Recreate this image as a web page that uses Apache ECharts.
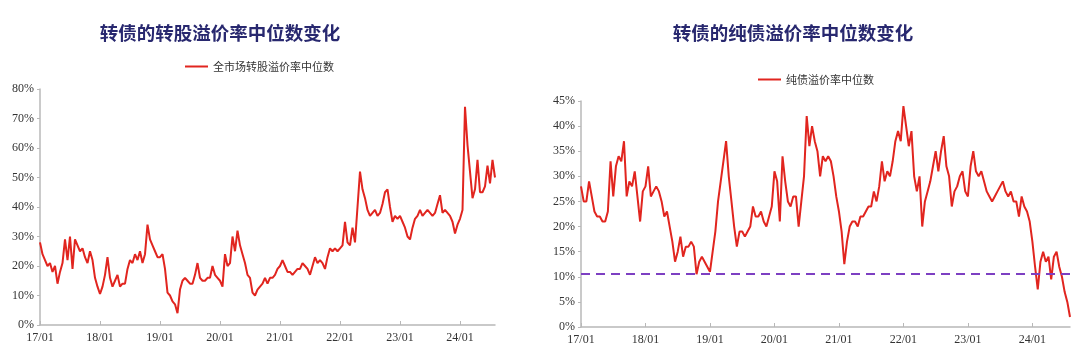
<!DOCTYPE html>
<html>
<head>
<meta charset="utf-8">
<script src="https://cdn.jsdelivr.net/npm/echarts@6/dist/echarts.min.js"></script>
<style>
  html, body { margin: 0; padding: 0; background: #fff; }
  #chart { width: 1080px; height: 353px; }
</style>
</head>
<body>
<div id="chart"></div>
<script>
// half-month points, 2017-01 .. 2024-08 (183 points)
var yearTicks = ['17/01', '18/01', '19/01', '20/01', '21/01', '22/01', '23/01', '24/01'];

// 全市场转股溢价率中位数 (%)
var convPremium = [
  // 2017
  28, 24, 22, 20, 21, 18, 20, 14, 18, 21, 29, 22, 30, 19, 29, 27, 25, 26, 23, 21, 25, 22, 16, 13,
  // 2018
  10.5, 13, 17, 23, 16, 13, 15, 17, 13, 14, 14, 19, 22, 21, 24, 22, 25, 21, 24, 34, 29, 27, 25, 23,
  // 2019
  23, 24, 19, 11, 10, 8, 7, 4, 12, 15, 16, 15, 14, 14, 17, 21, 16, 15, 15, 16, 16, 20, 17, 16,
  // 2020
  15, 13, 24, 20, 21, 30, 25, 32, 27, 24, 21, 17, 16, 11, 10, 12, 13, 14, 16, 14, 16, 16, 17, 19,
  // 2021
  20, 22, 20, 18, 18, 17, 18, 19, 19, 21, 20, 19, 17, 20, 23, 21, 22, 21, 19, 23, 26, 25, 26, 25,
  // 2022
  26, 27, 35, 28, 27, 33, 28, 40, 52, 46, 43, 39, 37, 38, 39, 37, 38, 41, 45, 46, 40, 35, 37, 36,
  // 2023
  37, 35, 33, 30, 29, 33, 36, 37, 39, 37, 38, 39, 38, 37, 38, 41, 44, 38, 39, 38, 37, 35, 31, 34,
  // 2024
  36, 39, 74, 61, 52, 43, 46, 56, 45, 45, 47, 54, 48, 56, 50
];

// 纯债溢价率中位数 (%)
var bondPremium = [
  // 2017
  28, 25, 25, 29, 26, 23, 22, 22, 21, 21, 23, 33, 26, 32, 34, 33, 37, 26, 29, 28, 31, 26, 21, 27,
  // 2018
  28, 32, 26, 27, 28, 27, 25, 22, 23, 20, 17, 13, 15, 18, 14, 16, 16, 17, 16, 10.5, 13, 14, 13, 12,
  // 2019
  11, 15, 19, 25, 29, 33, 37, 30, 25, 20, 16, 19, 19, 18, 19, 20, 24, 22, 22, 23, 21, 20, 22, 24,
  // 2020
  31, 29, 21, 34, 29, 25, 24, 26, 26, 20, 25, 30, 42, 36, 40, 37, 35, 30, 34, 33, 34, 33, 30, 26,
  // 2021
  23, 19, 12.5, 17, 20, 21, 21, 20, 22, 22, 23, 24, 24, 27, 25, 28, 33, 29, 31, 30, 33, 37, 39, 37,
  // 2022
  44, 40, 36, 39, 30, 27, 30, 20, 25, 27, 29, 32, 35, 31, 35, 38, 32, 30, 24, 27, 28, 30, 31, 27,
  // 2023
  26, 32, 35, 31, 30, 31, 29, 27, 26, 25, 26, 27, 28, 29, 27, 26, 27, 25, 25, 22, 26, 24, 23, 21,
  // 2024
  17, 12, 7.5, 13, 15, 13, 14, 9.5, 14, 15, 12, 10, 7, 5, 2
];

var bondLine = 10.7;

// category axis: first and 16th of each month
var dates = [];
for (var y = 2017; y <= 2024; y++) {
  for (var m = 1; m <= 12; m++) {
    var mm = (m < 10 ? '0' : '') + m;
    dates.push(y + '-' + mm + '-01');
    dates.push(y + '-' + mm + '-16');
  }
}
dates = dates.slice(0, convPremium.length);

function isYearStart(idx, val) {
  return yearTicks.indexOf(val.slice(2, 4) + '/' + val.slice(5, 7)) >= 0 && val.slice(8) === '01';
}

var tickFont = { fontFamily: 'Liberation Serif', fontSize: 12, color: '#333' };
var red = '#e1251f';

function xAxis(grid) {
  return {
    type: 'category', gridIndex: grid, data: dates, boundaryGap: false,
    axisLine: { lineStyle: { color: '#b8b8b8', width: 1.5 } },
    axisTick: { interval: isYearStart, inside: true, length: 4, lineStyle: { color: '#b8b8b8' } },
    axisLabel: Object.assign({ interval: isYearStart, margin: 7, formatter: function (v) {
      return v.slice(2, 4) + '/' + v.slice(5, 7);
    } }, tickFont),
    splitLine: { show: false }
  };
}
function yAxis(grid, max, step) {
  return {
    type: 'value', gridIndex: grid, min: 0, max: max, interval: step,
    axisLine: { show: true, lineStyle: { color: '#b8b8b8', width: 1.5 } },
    axisTick: { show: true, length: 3, lineStyle: { color: '#b8b8b8' } },
    axisLabel: Object.assign({ margin: 6, formatter: '{value}%' }, tickFont),
    splitLine: { show: false }
  };
}

var chart = echarts.init(document.getElementById('chart'));
chart.setOption({
  animation: false,
  title: [
    { text: '转债的转股溢价率中位数变化', left: 215, top: 19, textAlign: 'center',
      textStyle: { fontFamily: 'Noto Sans CJK SC', fontWeight: 'bold', fontSize: 18.5, color: '#28286f' } },
    { text: '转债的纯债溢价率中位数变化', left: 788, top: 19, textAlign: 'center',
      textStyle: { fontFamily: 'Noto Sans CJK SC', fontWeight: 'bold', fontSize: 18.5, color: '#28286f' } }
  ],
  legend: [
    { data: ['全市场转股溢价率中位数'], left: 180, top: 56, icon: 'rect', itemWidth: 23, itemHeight: 2,
      itemGap: 4, textStyle: { fontFamily: 'Noto Sans CJK SC', fontSize: 11, color: '#333' } },
    { data: ['纯债溢价率中位数'], left: 753, top: 69, icon: 'rect', itemWidth: 23, itemHeight: 2,
      itemGap: 4, textStyle: { fontFamily: 'Noto Sans CJK SC', fontSize: 11, color: '#333' } }
  ],
  grid: [
    { left: 40, top: 89, width: 455, height: 236 },
    { left: 581, top: 101, width: 489, height: 226 }
  ],
  xAxis: [xAxis(0), xAxis(1)],
  yAxis: [yAxis(0, 80, 10), yAxis(1, 45, 5)],
  series: [
    { name: '全市场转股溢价率中位数', type: 'line', xAxisIndex: 0, yAxisIndex: 0,
      data: convPremium, showSymbol: false, lineStyle: { color: red, width: 2 }, itemStyle: { color: red } },
    { name: '纯债溢价率中位数', type: 'line', xAxisIndex: 1, yAxisIndex: 1,
      data: bondPremium, showSymbol: false, lineStyle: { color: red, width: 2 }, itemStyle: { color: red },
      markLine: { silent: true, symbol: 'none', label: { show: false },
        lineStyle: { color: '#7d3fc2', type: [9, 6], width: 2 },
        data: [{ yAxis: bondLine }] } }
  ]
});
</script>
</body>
</html>
